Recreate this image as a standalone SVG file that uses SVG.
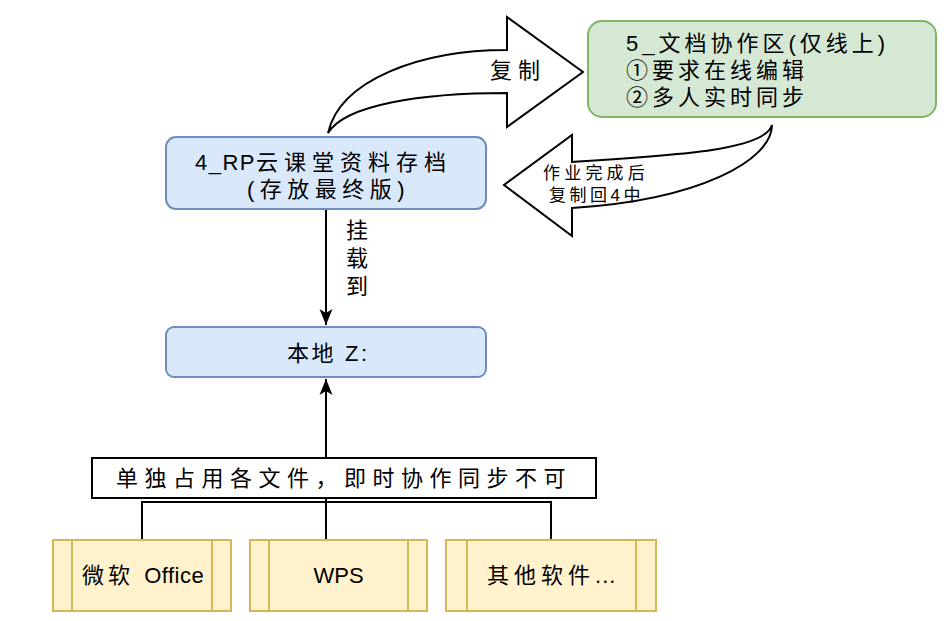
<svg xmlns="http://www.w3.org/2000/svg" width="952" height="621" viewBox="0 0 952 621">
<defs>
<style>
text{font-family:"Liberation Sans","Noto Sans CJK SC",sans-serif;font-size:22px;fill:#000}
.blue{fill:#dae8fc;stroke:#6c8ebf;stroke-width:2}
.green{fill:#d5e8d4;stroke:#82b366;stroke-width:2}
.yel{fill:#fff2cc;stroke:#d6b656;stroke-width:2}
.conn{fill:none;stroke:#000;stroke-width:2}
.big{fill:#fff;stroke:#000;stroke-width:2;stroke-linejoin:miter}
.sm{font-size:17px}
</style>
<marker id="arr" markerUnits="userSpaceOnUse" markerWidth="17" markerHeight="14" refX="16" refY="6.5" orient="auto" viewBox="0 0 17 13">
<path d="M0,0 L16,6.5 L0,13 L4,6.5 Z" fill="#000"/>
</marker>
</defs>
<rect width="952" height="621" fill="#fff"/>

<g id="connectors">
<path class="conn" d="M326,209 V325" marker-end="url(#arr)"/>
<path class="conn" d="M326,458 V379" marker-end="url(#arr)"/>
<path class="conn" d="M142,540 V502 H551 V540 M326,498 V540"/>
<path id="copy-arrow" class="big" d="M328,133 C340,80 420,50 507,50 L507,17 L583,72 L507,127 L507,93 C420,93 345,105 328,133 Z"/>
<text x="490" y="78" letter-spacing="6">复制</text>
<path id="back-arrow" class="big" d="M772,125 C765,150 680,155 572,162 L572,135 L504,185 L572,236 L572,208 C700,200 772,160 772,125 Z"/>
<text class="sm" x="543" y="179" letter-spacing="4.2">作业完成后</text>
<text class="sm" x="549" y="201" letter-spacing="3.5">复制回4中</text>
<text x="357" y="238" text-anchor="middle">挂</text>
<text x="357" y="266" text-anchor="middle">载</text>
<text x="357" y="294" text-anchor="middle">到</text>
</g>

<g id="node-rp">
<rect class="blue" x="166" y="137" width="320" height="72" rx="10"/>
<text x="195" y="170"><tspan letter-spacing="1.5">4_RP</tspan><tspan letter-spacing="6">云课堂资料存档</tspan></text>
<text x="247" y="197" letter-spacing="5.5">(存放最终版)</text>
</g>

<g id="node-doc">
<rect class="green" x="588" y="21" width="348" height="96" rx="14"/>
<text x="626" y="51" letter-spacing="4">5_文档协作区(仅线上)</text>
<text x="626" y="78" letter-spacing="4">①要求在线编辑</text>
<text x="626" y="105" letter-spacing="4">②多人实时同步</text>
</g>

<g id="node-z">
<rect class="blue" x="166" y="327" width="320" height="50" rx="8"/>
<text x="287" y="361" letter-spacing="2.6">本地 Z:</text>
</g>

<g id="node-label">
<rect x="92" y="458" width="504" height="40" fill="#fff" stroke="#000" stroke-width="2"/>
<text x="116" y="486" letter-spacing="6.5">单独占用各文件，即时协作同步不可</text>
</g>

<g id="node-office">
<rect class="yel" x="53" y="540" width="178" height="71"/>
<path class="yel" d="M72,540 V611 M212,540 V611"/>
<text x="82" y="583"><tspan letter-spacing="4">微软 </tspan><tspan letter-spacing="0.5">Office</tspan></text>
</g>

<g id="node-wps">
<rect class="yel" x="250" y="540" width="177" height="71"/>
<path class="yel" d="M269,540 V611 M408,540 V611"/>
<text x="338.5" y="583" text-anchor="middle">WPS</text>
</g>

<g id="node-other">
<rect class="yel" x="446" y="540" width="210" height="71"/>
<path class="yel" d="M467,540 V611 M636,540 V611"/>
<text x="487" y="583"><tspan letter-spacing="5">其他软件</tspan><tspan letter-spacing="1">...</tspan></text>
</g>
</svg>
